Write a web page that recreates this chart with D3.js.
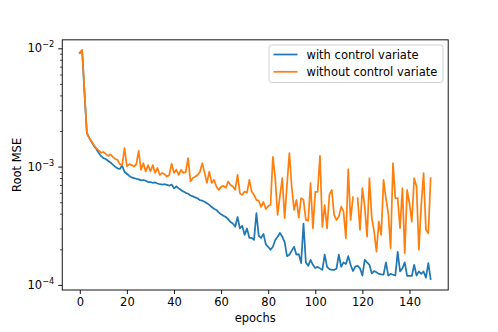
<!DOCTYPE html>
<html>
<head>
<meta charset="utf-8">
<script src="https://cdn.jsdelivr.net/npm/d3@7"></script>
<style>
  body { margin: 0; background: #fff; }
  text { font-family: "DejaVu Sans", sans-serif; fill: #000; }
</style>
</head>
<body>
<svg id="chart" width="498" height="332"></svg>
<script>
// ---- data ----
const epochs = d3.range(0, 150);
const seriesNames = ["with control variate", "without control variate"];
const withCV = [
  9.1e-3, 9.5e-3, 4.2e-3, 1.93e-3, 1.75e-3, 1.62e-3, 1.50e-3, 1.41e-3, 1.31e-3, 1.23e-3,
  1.18e-3, 1.16e-3, 1.12e-3, 1.085e-3, 1.04e-3, 1.00e-3, 0.965e-3, 0.955e-3, 1.02e-3, 0.90e-3,
  0.87e-3, 0.835e-3, 0.81e-3, 0.80e-3, 0.79e-3, 0.78e-3, 0.765e-3, 0.77e-3, 0.76e-3, 0.74e-3,
  0.74e-3, 0.73e-3, 0.735e-3, 0.72e-3, 0.71e-3, 0.705e-3, 0.71e-3, 0.70e-3, 0.69e-3, 0.705e-3,
  0.655e-3, 0.68e-3, 0.655e-3, 0.635e-3, 0.615e-3, 0.60e-3, 0.59e-3, 0.57e-3, 0.56e-3, 0.55e-3,
  0.54e-3, 0.52e-3, 0.515e-3, 0.505e-3, 0.49e-3, 0.475e-3, 0.455e-3, 0.44e-3, 0.43e-3, 0.41e-3,
  0.395e-3, 0.385e-3, 0.375e-3, 0.36e-3, 0.34e-3, 0.33e-3, 0.31e-3, 0.375e-3, 0.30e-3, 0.315e-3,
  0.265e-3, 0.30e-3, 0.25e-3, 0.25e-3, 0.24e-3, 0.405e-3, 0.26e-3, 0.25e-3, 0.27e-3, 0.22e-3,
  0.21e-3, 0.198e-3, 0.21e-3, 0.24e-3, 0.255e-3, 0.275e-3, 0.255e-3, 0.23e-3, 0.175e-3, 0.18e-3,
  0.195e-3, 0.21e-3, 0.18e-3, 0.182e-3, 0.153e-3, 0.33e-3, 0.155e-3, 0.145e-3, 0.163e-3, 0.148e-3,
  0.139e-3, 0.142e-3, 0.138e-3, 0.134e-3, 0.18e-3, 0.142e-3, 0.136e-3, 0.134e-3, 0.134e-3, 0.137e-3,
  0.18e-3, 0.142e-3, 0.155e-3, 0.15e-3, 0.175e-3, 0.148e-3, 0.131e-3, 0.143e-3, 0.145e-3, 0.138e-3,
  0.12e-3, 0.163e-3, 0.155e-3, 0.148e-3, 0.125e-3, 0.131e-3, 0.128e-3, 0.124e-3, 0.123e-3, 0.122e-3,
  0.155e-3, 0.12e-3, 0.124e-3, 0.122e-3, 0.12e-3, 0.19e-3, 0.13e-3, 0.138e-3, 0.155e-3, 0.119e-3,
  0.119e-3, 0.119e-3, 0.148e-3, 0.12e-3, 0.13e-3, 0.124e-3, 0.13e-3, 0.115e-3, 0.153e-3, 0.112e-3
];
const withoutCV = [
  9.2e-3, 9.7e-3, 4.3e-3, 1.93e-3, 1.75e-3, 1.64e-3, 1.52e-3, 1.43e-3, 1.37e-3, 1.31e-3,
  1.33e-3, 1.28e-3, 1.23e-3, 1.27e-3, 1.21e-3, 1.16e-3, 1.14e-3, 1.05e-3, 1.03e-3, 1.43e-3,
  1.01e-3, 1.05e-3, 1.03e-3, 1.00e-3, 1.05e-3, 1.36e-3, 0.94e-3, 1.07e-3, 0.91e-3, 1.03e-3,
  0.91e-3, 1.03e-3, 0.885e-3, 0.975e-3, 0.85e-3, 0.885e-3, 0.86e-3, 0.825e-3, 0.85e-3, 1.06e-3,
  0.885e-3, 0.945e-3, 0.85e-3, 0.94e-3, 0.885e-3, 0.90e-3, 1.18e-3, 0.75e-3, 0.80e-3, 0.82e-3,
  0.85e-3, 0.90e-3, 1.07e-3, 0.885e-3, 0.728e-3, 0.907e-3, 0.728e-3, 0.772e-3, 0.678e-3, 0.635e-3,
  0.674e-3, 0.687e-3, 0.661e-3, 0.747e-3, 0.70e-3, 0.678e-3, 0.635e-3, 0.851e-3, 0.594e-3, 0.576e-3,
  0.615e-3, 0.60e-3, 0.772e-3, 0.615e-3, 0.576e-3, 0.523e-3, 0.513e-3, 0.456e-3, 0.503e-3, 0.439e-3,
  0.465e-3, 0.4735e-3, 1.21e-3, 0.80e-3, 0.391e-3, 0.565e-3, 0.798e-3, 0.366e-3, 0.70e-3, 1.30e-3,
  0.675e-3, 0.431e-3, 0.523e-3, 0.37e-3, 0.541e-3, 0.523e-3, 0.354e-3, 0.35e-3, 0.724e-3, 0.30e-3,
  0.611e-3, 0.611e-3, 1.231e-3, 0.309e-3, 0.4735e-3, 0.30e-3, 0.576e-3, 0.635e-3, 0.391e-3, 0.354e-3,
  0.378e-3, 0.459e-3, 0.4165e-3, 0.248e-3, 0.951e-3, 0.354e-3, 0.551e-3, null, 0.541e-3, 0.292e-3,
  0.657e-3, 0.459e-3, 0.256e-3, 0.798e-3, 0.37e-3, 0.282e-3, 0.191e-3, 0.343e-3, 0.265e-3, 0.772e-3,
  0.54e-3, 0.404e-3, 0.204e-3, 1.068e-3, 0.541e-3, 0.541e-3, 0.3015e-3, 0.657e-3, 0.185e-3, 0.635e-3,
  0.490e-3, 0.343e-3, 0.798e-3, 0.678e-3, 0.198e-3, 0.4735e-3, 0.88e-3, 0.292e-3, 0.2735e-3, 0.798e-3
];
const xTicks = [0, 20, 40, 60, 80, 100, 120, 140];
const yMajorExps = [-4, -3, -2];
const colors = ["#1f77b4", "#ff7f0e"];

// ---- layout ----
const L = 62.25, R = 448.2, T = 39.84, B = 290;
const FS = 11.5;
const svg = d3.select("#chart");

const x = d3.scaleLinear().domain([-7.45, 156.45]).range([L, R]);
const y = d3.scaleLog().domain([Math.pow(10, -4.043), Math.pow(10, -1.9285)]).range([B, T]);

// clip
svg.append("defs").append("clipPath").attr("id", "clip")
  .append("rect").attr("x", L).attr("y", T).attr("width", R - L).attr("height", B - T);

// lines
const line = d3.line()
  .defined(d => d[1] != null)
  .x(d => x(d[0])).y(d => y(d[1]));
[withCV, withoutCV].forEach((s, k) => {
  svg.append("path")
    .datum(epochs.map((e, i) => [e, s[i]]))
    .attr("clip-path", "url(#clip)")
    .attr("fill", "none")
    .attr("stroke", colors[k])
    .attr("stroke-width", 1.73)
    .attr("stroke-linejoin", "round")
    .attr("stroke-linecap", "square")
    .attr("d", line);
});

// x axis
const xAxis = d3.axisBottom(x).tickValues(xTicks).tickSize(4).tickPadding(4).tickFormat(d3.format("d"));
const gx = svg.append("g").attr("transform", `translate(0,${B})`).call(xAxis);
gx.select(".domain").remove();
gx.selectAll(".tick line").attr("stroke", "#000").attr("stroke-width", 0.92);
gx.selectAll(".tick text").attr("font-size", FS).attr("font-family", "DejaVu Sans").attr("fill", "#000");

// y axis: major ticks
const yMajor = yMajorExps.map(e => Math.pow(10, e));
const yAxis = d3.axisLeft(y).tickValues(yMajor).tickSize(4).tickFormat("");
const gy = svg.append("g").attr("transform", `translate(${L},0)`).call(yAxis);
gy.select(".domain").remove();
gy.selectAll(".tick line").attr("stroke", "#000").attr("stroke-width", 0.92);
// minor ticks
const yMinor = [];
[-5, -4, -3, -2].forEach(e => { for (let m = 2; m <= 9; m++) { const v = m * Math.pow(10, e); if (v > y.domain()[0] && v < y.domain()[1]) yMinor.push(v); } });
const yAxisMinor = d3.axisLeft(y).tickValues(yMinor).tickSize(2.3).tickFormat("");
const gym = svg.append("g").attr("transform", `translate(${L},0)`).call(yAxisMinor);
gym.select(".domain").remove();
gym.selectAll(".tick line").attr("stroke", "#000").attr("stroke-width", 0.7);

// y tick labels (10^e)
yMajorExps.forEach((e, i) => {
  const yy = y(yMajor[i]);
  const t = svg.append("text")
    .attr("x", L - 8).attr("y", yy + 4.2)
    .attr("text-anchor", "end")
    .attr("font-size", FS);
  t.append("tspan").text("10");
  t.append("tspan").attr("font-size", 8.2).attr("dy", -5.2).text("\u2212" + Math.abs(e));
});

// spines
svg.append("rect").attr("x", L).attr("y", T).attr("width", R - L).attr("height", B - T)
  .attr("fill", "none").attr("stroke", "#000").attr("stroke-width", 0.92);

// axis labels
svg.append("text").attr("x", (L + R) / 2).attr("y", 322).attr("text-anchor", "middle")
  .attr("font-size", FS).text("epochs");
svg.append("text").attr("transform", `translate(21,${(T + B) / 2}) rotate(-90)`)
  .attr("text-anchor", "middle").attr("font-size", FS).text("Root MSE");

// legend
const lg = svg.append("g");
lg.append("rect").attr("x", 269).attr("y", 45).attr("width", 174).attr("height", 37.5)
  .attr("rx", 2.5).attr("fill", "#fff").attr("fill-opacity", 0.8)
  .attr("stroke", "#cccccc").attr("stroke-width", 0.92);
seriesNames.forEach((n, k) => {
  const ly = 54.5 + k * 17.3;
  lg.append("line").attr("x1", 273.5).attr("x2", 297.5).attr("y1", ly).attr("y2", ly)
    .attr("stroke", colors[k]).attr("stroke-width", 1.73);
  lg.append("text").attr("x", 306.5).attr("y", ly + 4.1).attr("font-size", FS).text(n);
});
</script>
</body>
</html>
